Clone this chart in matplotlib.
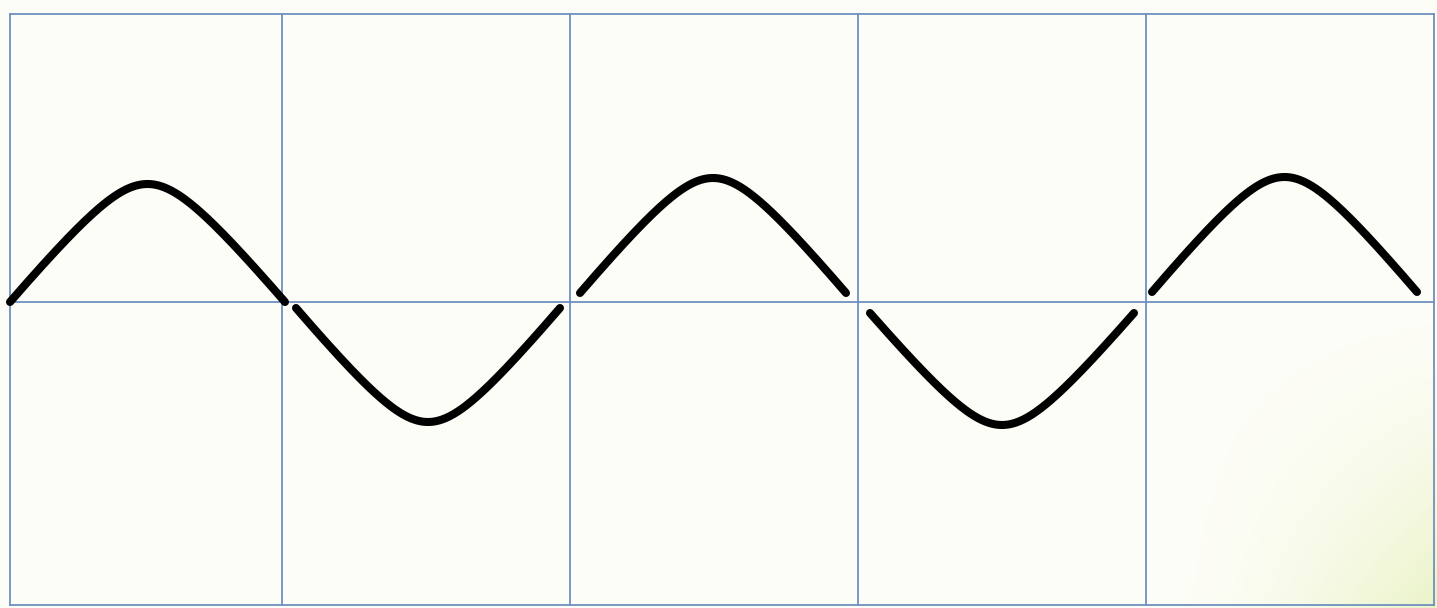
import numpy as np
import matplotlib.pyplot as plt

# grid frame (image pixel units)
grid_x = [10, 282, 570, 858, 1146, 1434]
grid_y = [14, 302, 605]

# half-wave arcs: start x, end x, baseline y, extreme y
arc_x0 = [10, 296, 580, 870, 1152]
arc_x1 = [285, 560, 846, 1134, 1417]
arc_base = [302, 308, 293, 313, 292]
arc_peak = [184, 422, 178, 425, 177]

W, H = 1437, 608


def arc_shape(u, e=0.36):
    # rounded triangle: straight flanks, soft top
    top = np.sqrt(1 + e ** 2)
    return (top - np.sqrt((2 * u - 1) ** 2 + e ** 2)) / (top - e)


def main():
    fig = plt.figure(figsize=(W / 100, H / 100), dpi=100)
    ax = fig.add_axes([0, 0, 1, 1])
    ax.set_xlim(0, W)
    ax.set_ylim(H, 0)
    ax.axis('off')

    # faint off-white paper with a greenish tint toward the bottom-right
    gx, gy = np.meshgrid(np.linspace(0, 1, 300), np.linspace(0, 1, 130))
    tint = np.clip((gx - 0.8) * 5, 0, 1) * np.clip((gy - 0.45) * 1.8, 0, 1)
    tint = tint ** 1.6
    base = np.array([0.994, 0.994, 0.975])
    green = np.array([0.92, 0.955, 0.78])
    img = base * (1 - tint[..., None]) + green * tint[..., None]
    ax.imshow(img, extent=(0, W, H, 0), aspect='auto', zorder=0, interpolation='bilinear')

    line_col = '#7090c0'
    for x in grid_x:
        ax.plot([x, x], [grid_y[0], grid_y[-1]], color=line_col, lw=1.3, zorder=1)
    for y in grid_y:
        ax.plot([grid_x[0], grid_x[-1]], [y, y], color=line_col, lw=1.3, zorder=1)

    for x0, x1, yb, yp in zip(arc_x0, arc_x1, arc_base, arc_peak):
        u = np.linspace(0, 1, 200)
        xs = x0 + (x1 - x0) * u
        ys = yb + (yp - yb) * arc_shape(u)
        ax.plot(xs, ys, color='black', lw=5.8, solid_capstyle='round', zorder=2)

    fig.savefig('out.png', dpi=100)
    plt.close(fig)


if __name__ == "__main__":
    main()
